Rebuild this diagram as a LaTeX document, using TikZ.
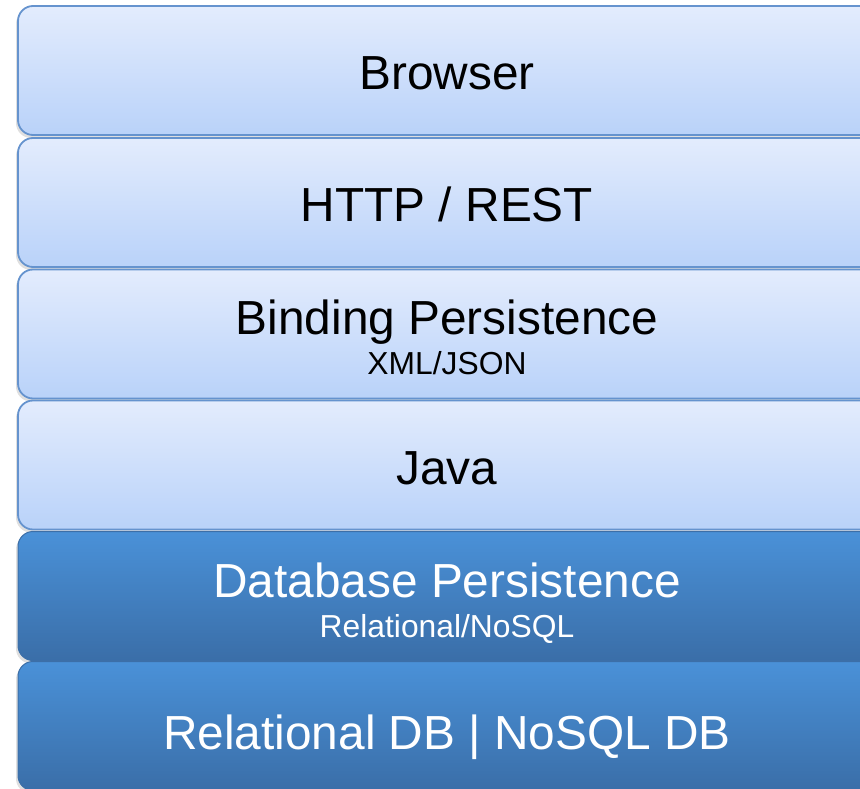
\documentclass[tikz,border=0pt]{standalone}
\usepackage{fontspec}
\setmainfont{Liberation Sans}
\usetikzlibrary{shadows}
\definecolor{lightTop}{HTML}{E3ECFD}
\definecolor{lightBot}{HTML}{B9D2F9}
\definecolor{lightEdge}{HTML}{6593CE}
\definecolor{darkTop}{HTML}{4A91D8}
\definecolor{darkBot}{HTML}{3A6EA8}
\definecolor{darkEdge}{HTML}{3C6FA8}
\tikzset{
  layer/.style={rounded corners=15pt, minimum width=858pt, minimum height=129pt,
    inner sep=0pt, outer sep=0pt,
    drop shadow={shadow xshift=-2pt, shadow yshift=-3pt, opacity=0.25}},
  lightlayer/.style={layer, draw=lightEdge, line width=1.8pt, top color=lightTop, bottom color=lightBot},
  darklayer/.style={layer, draw=darkEdge, line width=1pt, top color=darkTop, bottom color=darkBot},
  big/.style={anchor=base, inner sep=0pt, font=\fontsize{47.8}{57}\selectfont},
  small/.style={anchor=base, inner sep=0pt, font=\fontsize{31.8}{38}\selectfont},
}
\begin{document}
\begin{tikzpicture}[x=1pt, y=-1pt]
  \useasboundingbox (0,0) rectangle (860,789);
  % layer boxes, top to bottom
  \node[lightlayer] (browser)  at (447, 70.5) {};
  \node[lightlayer] (http)     at (447,202.5) {};
  \node[lightlayer] (binding)  at (447,334.0) {};
  \node[lightlayer] (java)     at (447,465.0) {};
  \node[darklayer]  (dbpers)   at (447,596.0) {};
  \node[darklayer]  (db)       at (447,726.0) {};
  % labels
  \node[big] (browserT) at (447, 90) {Browser};
  \node[big] (httpT)    at (447,222) {HTTP / REST};
  \node[big] (bindT)    at (447,334) {Binding Persistence};
  \node[small] (bindS)  at (447,374) {XML/JSON};
  \node[big] (javaT)    at (447,484) {Java};
  \node[big, text=white] (dbpT)   at (447,597) {Database Persistence};
  \node[small, text=white] (dbpS) at (447,637) {Relational/NoSQL};
  \node[big, text=white] (dbT)    at (447,749) {Relational DB | NoSQL DB};
\end{tikzpicture}
\end{document}
